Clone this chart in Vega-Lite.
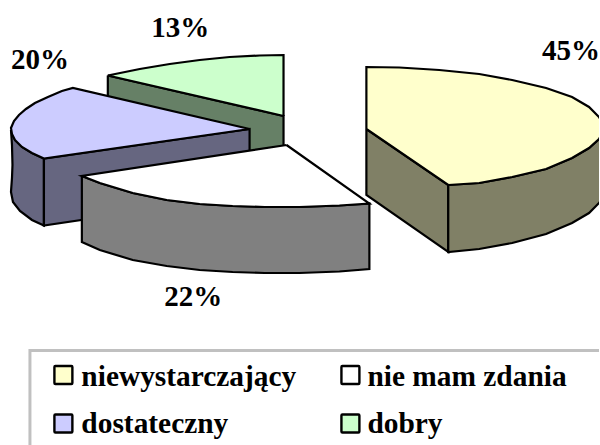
{"$schema":"https://vega.github.io/schema/vega-lite/v6.json","width":600,"height":445,"autosize":{"type":"fit","contains":"padding"},"padding":0,"background":"white","view":{"stroke":null},
"datasets":{
"box":[{"x":30,"x2":620,"y":350.5,"y2":470}],
"labels":[{"t":"13%","x":180.5,"y":37},{"t":"20%","x":40,"y":69},{"t":"45%","x":572,"y":60},{"t":"22%","x":193.5,"y":306}],
"legend":[{"part":"niewystarczający","x":63.5,"y":375,"x0":54.5,"x1":72.5,"y0":366,"y1":384,"tx":81.5,"ty":385.5},{"part":"nie mam zdania","x":351,"y":375,"x0":342,"x1":360,"y0":366,"y1":384,"tx":368,"ty":385.5},{"part":"dostateczny","x":63.5,"y":423.5,"x0":54.5,"x1":72.5,"y0":414.5,"y1":432.5,"tx":81.5,"ty":433},{"part":"dobry","x":351,"y":423.5,"x0":342,"x1":360,"y0":414.5,"y1":432.5,"tx":368,"ty":433}],
"shapes":[
{"part":"dobry bok","i":0,"x":108,"y":75.5},{"part":"dobry bok","i":1,"x":284,"y":116},{"part":"dobry bok","i":2,"x":284,"y":160},{"part":"dobry bok","i":3,"x":200,"y":160},{"part":"dobry bok","i":4,"x":108,"y":110},{"part":"dobry bok","i":5,"x":108,"y":75.5},
{"part":"dobry","i":0,"x":284,"y":116},{"part":"dobry","i":1,"x":284,"y":55},{"part":"dobry","i":2,"x":260,"y":55.5},{"part":"dobry","i":3,"x":230,"y":57},{"part":"dobry","i":4,"x":200,"y":60},{"part":"dobry","i":5,"x":170,"y":64},{"part":"dobry","i":6,"x":140,"y":69},{"part":"dobry","i":7,"x":108,"y":75.5},{"part":"dobry","i":8,"x":284,"y":116},
{"part":"dostateczny bok","i":0,"x":11,"y":130},{"part":"dostateczny bok","i":1,"x":15,"y":140},{"part":"dostateczny bok","i":2,"x":22,"y":147},{"part":"dostateczny bok","i":3,"x":32,"y":153},{"part":"dostateczny bok","i":4,"x":44,"y":158.5},{"part":"dostateczny bok","i":5,"x":44,"y":225.5},{"part":"dostateczny bok","i":6,"x":32,"y":220},{"part":"dostateczny bok","i":7,"x":20,"y":211},{"part":"dostateczny bok","i":8,"x":13,"y":202},{"part":"dostateczny bok","i":9,"x":11,"y":192},{"part":"dostateczny bok","i":10,"x":12,"y":178},{"part":"dostateczny bok","i":11,"x":12.5,"y":165},{"part":"dostateczny bok","i":12,"x":12,"y":145},{"part":"dostateczny bok","i":13,"x":11,"y":130},
{"part":"dostateczny front","i":0,"x":44,"y":158.5},{"part":"dostateczny front","i":1,"x":250,"y":129},{"part":"dostateczny front","i":2,"x":250,"y":195},{"part":"dostateczny front","i":3,"x":44,"y":225.5},{"part":"dostateczny front","i":4,"x":44,"y":158.5},
{"part":"dostateczny","i":0,"x":250,"y":129},{"part":"dostateczny","i":1,"x":73,"y":88},{"part":"dostateczny","i":2,"x":62,"y":91},{"part":"dostateczny","i":3,"x":48,"y":97},{"part":"dostateczny","i":4,"x":35,"y":103},{"part":"dostateczny","i":5,"x":26,"y":109},{"part":"dostateczny","i":6,"x":19,"y":115},{"part":"dostateczny","i":7,"x":14,"y":121},{"part":"dostateczny","i":8,"x":11,"y":128},{"part":"dostateczny","i":9,"x":12,"y":134},{"part":"dostateczny","i":10,"x":15,"y":140},{"part":"dostateczny","i":11,"x":22,"y":147},{"part":"dostateczny","i":12,"x":32,"y":153},{"part":"dostateczny","i":13,"x":44,"y":158.5},{"part":"dostateczny","i":14,"x":250,"y":129},
{"part":"nie mam zdania bok","i":0,"x":82,"y":176},{"part":"nie mam zdania bok","i":1,"x":100,"y":183},{"part":"nie mam zdania bok","i":2,"x":133,"y":193},{"part":"nie mam zdania bok","i":3,"x":167,"y":200},{"part":"nie mam zdania bok","i":4,"x":200,"y":204},{"part":"nie mam zdania bok","i":5,"x":233,"y":206},{"part":"nie mam zdania bok","i":6,"x":265,"y":207},{"part":"nie mam zdania bok","i":7,"x":300,"y":207},{"part":"nie mam zdania bok","i":8,"x":340,"y":205.5},{"part":"nie mam zdania bok","i":9,"x":370,"y":203.5},{"part":"nie mam zdania bok","i":10,"x":370,"y":269},{"part":"nie mam zdania bok","i":11,"x":340,"y":271.5},{"part":"nie mam zdania bok","i":12,"x":300,"y":273},{"part":"nie mam zdania bok","i":13,"x":265,"y":273},{"part":"nie mam zdania bok","i":14,"x":233,"y":272},{"part":"nie mam zdania bok","i":15,"x":200,"y":270},{"part":"nie mam zdania bok","i":16,"x":167,"y":266},{"part":"nie mam zdania bok","i":17,"x":133,"y":260},{"part":"nie mam zdania bok","i":18,"x":100,"y":250},{"part":"nie mam zdania bok","i":19,"x":82,"y":242},{"part":"nie mam zdania bok","i":20,"x":82,"y":176},
{"part":"nie mam zdania","i":0,"x":287,"y":145},{"part":"nie mam zdania","i":1,"x":82,"y":176},{"part":"nie mam zdania","i":2,"x":100,"y":183},{"part":"nie mam zdania","i":3,"x":133,"y":193},{"part":"nie mam zdania","i":4,"x":167,"y":200},{"part":"nie mam zdania","i":5,"x":200,"y":204},{"part":"nie mam zdania","i":6,"x":233,"y":206},{"part":"nie mam zdania","i":7,"x":265,"y":207},{"part":"nie mam zdania","i":8,"x":300,"y":207},{"part":"nie mam zdania","i":9,"x":340,"y":205.5},{"part":"nie mam zdania","i":10,"x":370,"y":203.5},{"part":"nie mam zdania","i":11,"x":287,"y":145},
{"part":"niewystarczający bok","i":0,"x":367,"y":129},{"part":"niewystarczający bok","i":1,"x":449,"y":185},{"part":"niewystarczający bok","i":2,"x":449,"y":252},{"part":"niewystarczający bok","i":3,"x":367,"y":195},{"part":"niewystarczający bok","i":4,"x":367,"y":129},
{"part":"niewystarczający łuk","i":0,"x":449,"y":185},{"part":"niewystarczający łuk","i":1,"x":480,"y":183},{"part":"niewystarczający łuk","i":2,"x":513,"y":177},{"part":"niewystarczający łuk","i":3,"x":547,"y":169},{"part":"niewystarczający łuk","i":4,"x":573,"y":158},{"part":"niewystarczający łuk","i":5,"x":590,"y":148},{"part":"niewystarczający łuk","i":6,"x":600,"y":139},{"part":"niewystarczający łuk","i":7,"x":606,"y":128},{"part":"niewystarczający łuk","i":8,"x":606,"y":195},{"part":"niewystarczający łuk","i":9,"x":600,"y":203},{"part":"niewystarczający łuk","i":10,"x":590,"y":213},{"part":"niewystarczający łuk","i":11,"x":573,"y":223},{"part":"niewystarczający łuk","i":12,"x":547,"y":234},{"part":"niewystarczający łuk","i":13,"x":513,"y":243},{"part":"niewystarczający łuk","i":14,"x":480,"y":249},{"part":"niewystarczający łuk","i":15,"x":449,"y":252},{"part":"niewystarczający łuk","i":16,"x":449,"y":185},
{"part":"niewystarczający","i":0,"x":367,"y":129},{"part":"niewystarczający","i":1,"x":367,"y":67},{"part":"niewystarczający","i":2,"x":400,"y":67.5},{"part":"niewystarczający","i":3,"x":440,"y":70},{"part":"niewystarczający","i":4,"x":480,"y":74},{"part":"niewystarczający","i":5,"x":513,"y":80},{"part":"niewystarczający","i":6,"x":547,"y":88},{"part":"niewystarczający","i":7,"x":573,"y":97},{"part":"niewystarczający","i":8,"x":590,"y":107},{"part":"niewystarczający","i":9,"x":600,"y":117},{"part":"niewystarczający","i":10,"x":606,"y":128},{"part":"niewystarczający","i":11,"x":600,"y":139},{"part":"niewystarczający","i":12,"x":590,"y":148},{"part":"niewystarczający","i":13,"x":573,"y":158},{"part":"niewystarczający","i":14,"x":547,"y":169},{"part":"niewystarczający","i":15,"x":513,"y":177},{"part":"niewystarczający","i":16,"x":480,"y":183},{"part":"niewystarczający","i":17,"x":449,"y":185},{"part":"niewystarczający","i":18,"x":367,"y":129}
]},
"encoding":{
"x":{"field":"x","type":"quantitative","scale":{"domain":[0,600],"nice":false,"zero":false},"axis":null},
"y":{"field":"y","type":"quantitative","scale":{"domain":[445,0],"nice":false,"zero":false},"axis":null}
},
"layer":[
{"data":{"name":"box"},"mark":{"type":"rect","fill":"white","stroke":"#C0C0C0","strokeWidth":3,"clip":true},"encoding":{"x2":{"field":"x2"},"y2":{"field":"y2"}}},
{"data":{"name":"shapes"},"mark":{"type":"line","stroke":"black","strokeWidth":2.2,"strokeJoin":"miter","clip":true},"encoding":{
"order":{"field":"i","type":"quantitative"},
"detail":{"field":"part"},
"fill":{"field":"part","type":"nominal","legend":null,"scale":{"domain":["dobry bok","dobry","dostateczny bok","dostateczny front","dostateczny","nie mam zdania bok","nie mam zdania","niewystarczający bok","niewystarczający łuk","niewystarczający"],"range":["#668066","#CCFFCC","#666680","#666680","#CCCCFF","#808080","#FFFFFF","#808066","#808066","#FFFFCC"]}}}},
{"data":{"name":"legend"},"mark":{"type":"rect","stroke":"black","strokeWidth":2.4,"cornerRadius":1},"encoding":{"x":{"field":"x0","type":"quantitative"},"x2":{"field":"x1"},"y":{"field":"y0","type":"quantitative"},"y2":{"field":"y1"},"fill":{"field":"part","type":"nominal","legend":null}}},
{"data":{"name":"legend"},"mark":{"type":"text","font":"Liberation Serif","fontWeight":"bold","fontSize":29.4,"align":"left","baseline":"alphabetic","color":"black"},"encoding":{"x":{"field":"tx","type":"quantitative"},"y":{"field":"ty","type":"quantitative"},"text":{"field":"part"}}},
{"data":{"name":"labels"},"mark":{"type":"text","font":"Liberation Serif","fontWeight":"bold","fontSize":29,"align":"center","baseline":"alphabetic","color":"black"},"encoding":{"text":{"field":"t"}}}
]}
